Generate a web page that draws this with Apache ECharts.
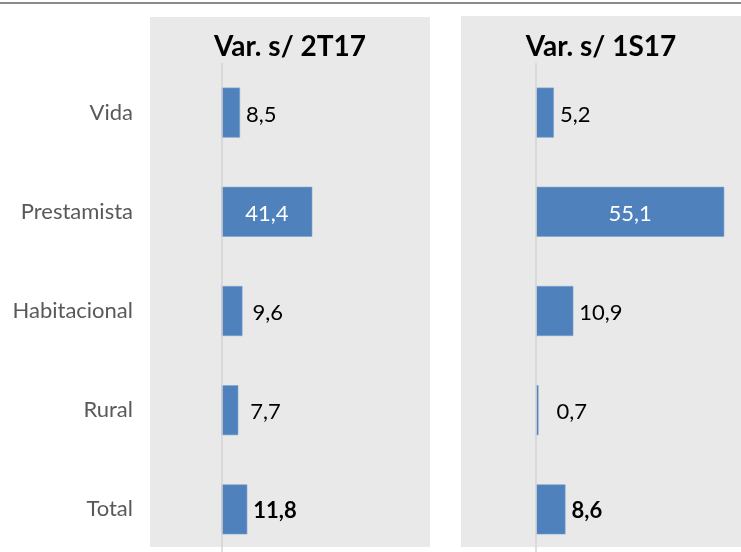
<!DOCTYPE html>
<html>
<head>
<meta charset="utf-8">
<script src="https://cdn.jsdelivr.net/npm/echarts@6/dist/echarts.min.js"></script>
<style>
  html, body { margin: 0; padding: 0; background: #ffffff; }
  #chart { width: 741px; height: 552px; }
</style>
</head>
<body>
<div id="chart"></div>
<script>
const categories = ['Vida', 'Prestamista', 'Habitacional', 'Rural', 'Total'];
const var2T17 = [8.5, 41.4, 9.6, 7.7, 11.8];
const var1S17 = [5.2, 55.1, 10.9, 0.7, 8.6];
const panelTitles = ['Var. s/ 2T17', 'Var. s/ 1S17'];

// extra horizontal nudge (px) of some value labels, as placed in the original
const labelNudge2T17 = [0, 0, 4, 6, 0];
const labelNudge1S17 = [0, 0, 0, 12, 0];

const FONT = 'Lato';
const BAR = '#4f81bd';
const PANEL = '#e9e9e9';

function fmt(v) { return v.toFixed(1).replace('.', ','); }

function buildItems(vals, nudges) {
  return vals.map(function (v, i) {
    const item = { value: v };
    if (categories[i] === 'Prestamista') {
      item.label = { position: 'inside', color: '#ffffff', offset: [0, 2] };
    } else if (categories[i] === 'Total') {
      item.label = { fontWeight: 'bold', offset: [nudges[i], 2] };
    } else {
      item.label = { offset: [nudges[i], 2] };
    }
    return item;
  });
}

function makeSeries(vals, nudges, idx) {
  return {
    type: 'bar',
    xAxisIndex: idx,
    yAxisIndex: idx,
    data: buildItems(vals, nudges),
    barWidth: 50,
    itemStyle: { color: BAR, borderColor: '#7fa3d0', borderWidth: 0.6 },
    label: {
      show: true,
      position: 'right',
      distance: 6,
      color: '#000000',
      fontFamily: FONT,
      fontSize: 22,
      formatter: function (p) { return fmt(p.value); }
    },
    markLine: {
      silent: true,
      symbol: 'none',
      animation: false,
      label: { show: false },
      lineStyle: { color: '#d3d3d3', width: 1.5, type: 'solid' },
      data: [{ xAxis: 0 }]
    },
    z: 3
  };
}

const chart = echarts.init(document.getElementById('chart'), null, { renderer: 'canvas' });

const option = {
  animation: false,
  backgroundColor: '#ffffff',
  graphic: [
    { type: 'rect', z: -100, shape: { x: 0, y: 2, width: 741, height: 2 }, style: { fill: '#8a8a8a' } },
    { type: 'rect', z: -100, shape: { x: 150, y: 17, width: 280, height: 530 }, style: { fill: PANEL } },
    { type: 'rect', z: -100, shape: { x: 461, y: 16, width: 280, height: 531 }, style: { fill: PANEL } }
  ],
  title: [
    { text: panelTitles[0], left: 290, top: 33, padding: 0, textAlign: 'center',
      textStyle: { fontFamily: FONT, fontWeight: 'bold', fontSize: 28, color: '#000000' } },
    { text: panelTitles[1], left: 601, top: 33, padding: 0, textAlign: 'center',
      textStyle: { fontFamily: FONT, fontWeight: 'bold', fontSize: 28, color: '#000000' } }
  ],
  grid: [
    { left: 150, width: 280, top: 63, bottom: -7, containLabel: false, outerBoundsMode: 'none' },
    { left: 461, width: 280, top: 63, bottom: -7, containLabel: false, outerBoundsMode: 'none' }
  ],
  xAxis: [
    { type: 'value', gridIndex: 0, min: -32.5, max: 95,
      axisLine: { show: false }, axisTick: { show: false }, axisLabel: { show: false }, splitLine: { show: false } },
    { type: 'value', gridIndex: 1, min: -22, max: 60,
      axisLine: { show: false }, axisTick: { show: false }, axisLabel: { show: false }, splitLine: { show: false } }
  ],
  yAxis: [
    { type: 'category', gridIndex: 0, data: categories, inverse: true,
      axisLine: { show: false, onZero: false }, axisTick: { show: false },
      axisLabel: { show: true, margin: 17, color: '#595959', fontFamily: FONT, fontSize: 22 } },
    { type: 'category', gridIndex: 1, data: categories, inverse: true,
      axisLine: { show: false, onZero: false }, axisTick: { show: false },
      axisLabel: { show: false } }
  ],
  series: [makeSeries(var2T17, labelNudge2T17, 0), makeSeries(var1S17, labelNudge1S17, 1)]
};

chart.setOption(option);
</script>
</body>
</html>
